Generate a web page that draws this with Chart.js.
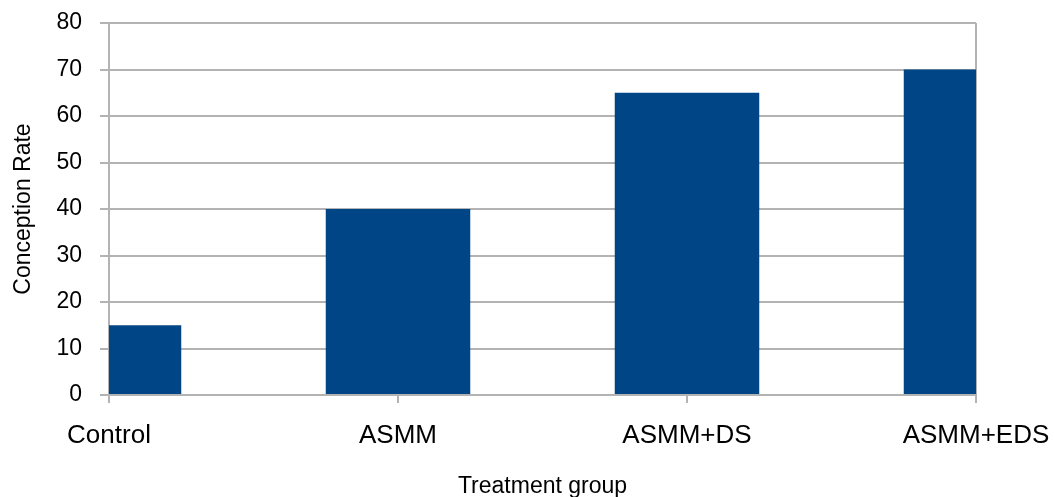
<!DOCTYPE html>
<html>
<head>
<meta charset="utf-8">
<script src="https://cdn.jsdelivr.net/npm/chart.js@4"></script>
<style>
    html, body { margin: 0; padding: 0; background: #fff; }
    #wrap { width: 1054px; height: 497px; }
</style>
</head>
<body>
<div id="wrap"><canvas id="rateChart" width="1054" height="497"></canvas></div>
<script>
const groups = ['Control', 'ASMM', 'ASMM+DS', 'ASMM+EDS'];
const conceptionRate = [15, 40, 65, 70];
const yTicks = [0, 10, 20, 30, 40, 50, 60, 70, 80];

const gray = '#b3b3b3';

document.addEventListener('DOMContentLoaded', () => {
    const ctx = document.getElementById('rateChart').getContext('2d');

    new Chart(ctx, {
        type: 'bar',
        data: {
            labels: groups,
            datasets: [{
                data: conceptionRate,
                backgroundColor: '#004586',
                borderWidth: 0,
                barPercentage: 0.5,
                categoryPercentage: 1
            }]
        },
        options: {
            responsive: false,
            animation: false,
            layout: { padding: { top: 23, right: 78, left: 0, bottom: 0 } },
            plugins: {
                legend: { display: false },
                tooltip: { enabled: false }
            },
            scales: {
                x: {
                    type: 'category',
                    offset: false,
                    afterFit: (scale) => {
                        scale.height = 102;
                        scale.paddingLeft = 0;
                        scale.paddingRight = 0;
                    },
                    grid: {
                        offset: false,
                        // only the right edge line is drawn inside the plot
                        color: (c) => c.index === groups.length - 1 ? gray : 'rgba(0,0,0,0)',
                        tickColor: gray,
                        lineWidth: 2,
                        tickLength: 8
                    },
                    border: { color: gray, width: 2 },
                    ticks: {
                        color: '#000',
                        font: { family: 'Liberation Sans', size: 26 },
                        padding: 17,
                        maxRotation: 0,
                        autoSkip: false
                    },
                    title: {
                        display: true,
                        text: 'Treatment group',
                        color: '#000',
                        font: { family: 'Liberation Sans', size: 23, lineHeight: 1 },
                        padding: { top: 0, bottom: -1 }
                    }
                },
                y: {
                    min: 0,
                    max: 80,
                    afterFit: (scale) => {
                        scale.width = 109;
                        scale.paddingTop = 0;
                        scale.paddingBottom = 0;
                    },
                    afterBuildTicks: (scale) => { scale.ticks = yTicks.map(v => ({ value: v })); },
                    grid: {
                        color: gray,
                        tickColor: gray,
                        lineWidth: 2,
                        tickLength: 9
                    },
                    border: { color: gray, width: 2 },
                    ticks: {
                        color: '#000',
                        font: { family: 'Liberation Sans', size: 23 },
                        padding: 18
                    },
                    title: {
                        display: true,
                        text: 'Conception Rate',
                        color: '#000',
                        font: { family: 'Liberation Sans', size: 23, lineHeight: 1.2 },
                        padding: { top: 10, bottom: 0 }
                    }
                }
            }
        }
    });
});
</script>
</body>
</html>
